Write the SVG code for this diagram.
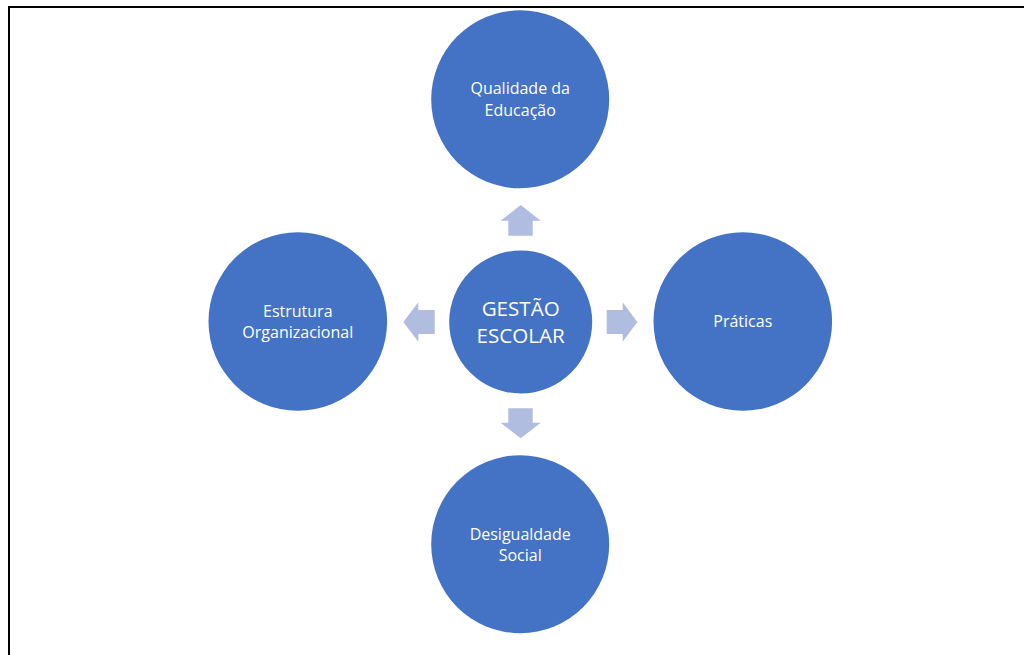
<svg xmlns="http://www.w3.org/2000/svg" width="1024" height="655" viewBox="0 0 1024 655">
<style>
.node{fill:#4472C4}
.arrow{fill:#B0BDE0}
.t{font-family:"Open Sans","Noto Sans",sans-serif;font-size:16px;fill:#FFFFFF;text-anchor:middle}
.tc{font-family:"Open Sans","Noto Sans",sans-serif;font-size:20.6px;fill:#FFFFFF;text-anchor:middle}
.frame{stroke:#000000;stroke-width:2;fill:none}
</style>
<rect width="1024" height="655" fill="#FFFFFF"/>
<path class="frame" d="M9,655 V7 H1024"/>
<g id="connectors">
<polygon class="arrow" points="520.7,205 540.7,220.7 532.7,220.7 532.7,235.7 508.3,235.7 508.3,220.7 500.7,220.7"/>
<polygon class="arrow" points="520.7,438.3 540.7,422.7 532.7,422.7 532.7,408.3 508.3,408.3 508.3,422.7 500.7,422.7"/>
<polygon class="arrow" points="637.3,322 622.7,302.3 622.7,310 606.7,310 606.7,334 622.7,334 622.7,341.7"/>
<polygon class="arrow" points="403.3,322 418.3,302.3 418.3,310 434.7,310 434.7,334 418.3,334 418.3,341.7"/>
</g>
<g id="center">
<circle class="node" cx="520.7" cy="322" r="71.5"/>
<text class="tc" x="520.7" y="316">GESTÃO</text>
<text class="tc" x="520.7" y="342.7">ESCOLAR</text>
</g>
<g id="qualidade">
<circle class="node" cx="520.2" cy="99.3" r="89"/>
<text class="t" x="520.2" y="94.3">Qualidade da</text>
<text class="t" x="520.2" y="115.7">Educação</text>
</g>
<g id="estrutura">
<circle class="node" cx="297.8" cy="321.5" r="89.3"/>
<text class="t" x="297.8" y="316.7">Estrutura</text>
<text class="t" x="297.8" y="337.7">Organizacional</text>
</g>
<g id="praticas">
<circle class="node" cx="742.8" cy="321.5" r="89.3"/>
<text class="t" x="742.8" y="326.7">Práticas</text>
</g>
<g id="desigualdade">
<circle class="node" cx="520.2" cy="544.2" r="89"/>
<text class="t" x="520.2" y="540">Desigualdade</text>
<text class="t" x="520.2" y="561">Social</text>
</g>
</svg>
